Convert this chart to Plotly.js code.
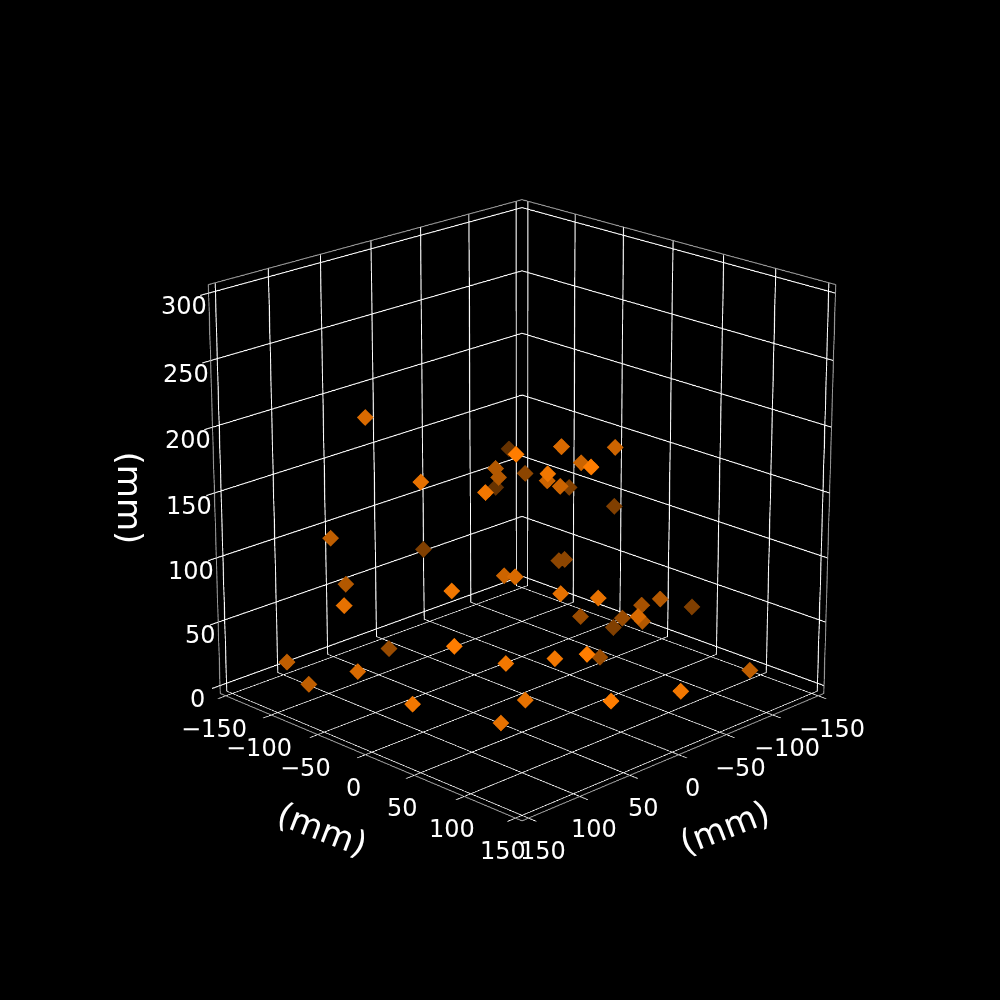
<!DOCTYPE html>
<html>
<head>
<meta charset="utf-8">
<script src="https://cdn.plot.ly/plotly-3.0.1.min.js"></script>
<style>
html, body { margin: 0; background: #000; overflow: hidden; width: 1000px; height: 1000px; }
#myDiv { position: absolute; left: -1078px; top: -1107px; width: 3200px; height: 3200px; }
</style>
</head>
<body>
<div id="myDiv"></div>
<script>
// values
var xs = [106,102,120,13,108,118,147,-75,76,12,12,-61,85,-41,14,51,14,8,-74,-6,42,-26,-94,-46,-43,52,59,52,34,-31,-49,-51,-117,-52,5,-36,-72,75,-34,79,149,148,73,146,138,104,146,87,103,-82,-10,58];
var ys = [-50,2,-73,-90,-71,49,-30,-89,70,-15,-12,-89,49,-38,53,76,39,46,-25,53,109,67,2,-2,-5,34,52,90,109,29,91,71,60,51,120,86,23,138,46,111,-90,-68,-64,-18,72,88,38,90,82,149,148,145];
var zs = [221,185,128,86,90,121,96,143,216,168,162,116,185,145,202,197,173,169,129,185,208,195,116,86,85,110,116,112,109,54,80,69,46,53,90,65,32,87,26,77,36,25,32,49,92,74,41,42,27,32,37,49];
var shade = [.85,.9,.75,.5,.7,.95,.9,.4,1,.7,.7,.4,.95,.55,.85,.95,.8,.8,.5,.8,1,.8,.5,.55,.55,.8,.85,.9,.9,.6,.7,.65,.5,.6,.85,.7,.5,1,.6,.95,.75,.75,.6,.85,1,.95,.95,.9,.9,.75,.95,1];

var xyTicks = [-150,-100,-50,0,50,100,150];
var zTicks = [0,50,100,150,200,250,300];
var axisEdge = 156.25;
var zMin = -6.25;
var zMax = 306.25;

var colors = shade.map(function(a) {
  return 'rgb(' + Math.round(255 * a) + ',' + Math.round(125 * a) + ',0)';
});

var data = [
  {
    x: xs,
    y: ys,
    z: zs,
    type: 'scatter3d',
    mode: 'markers',
    marker: { symbol: 'diamond', size: 5, color: colors, line: { width: 0 } },
    hoverinfo: 'none'
  }
];

function label(x, y, z, text, size, opts) {
  return Object.assign({
    x: x, y: y, z: z,
    text: text,
    showarrow: false,
    font: { family: 'DejaVu Sans', size: size, color: '#fff' }
  }, opts);
}

function tickText(v) {
  return v < 0 ? '\u2212' + (-v) : String(v);
}

var notes = [];
xyTicks.forEach(function(t) {
  notes.push(label(t, axisEdge, zMin, tickText(t), 24, { xshift: 14, yshift: -33 }));
  notes.push(label(axisEdge, t, zMin, tickText(t), 24, { xshift: -12, yshift: -33 }));
});
zTicks.forEach(function(t) {
  // the 0 sits further left than the other z labels
  notes.push(label(axisEdge, -axisEdge, t, tickText(t), 24, { xanchor: 'right', xshift: t === 0 ? -13 : 0, yshift: -13 }));
});
notes.push(label(0, axisEdge, zMin, '(mm)', 34, { textangle: -21, xshift: 46, yshift: -72 }));
notes.push(label(axisEdge, 0, zMin, '(mm)', 34, { textangle: 21, xshift: -43, yshift: -74 }));
notes.push(label(axisEdge, -axisEdge, 150, '(mm)', 34, { textangle: 90, xshift: -84, yshift: -5 }));

function axis(range) {
  return {
    title: { text: '' },
    range: range,
    autorange: false,
    tickmode: 'linear',
    tick0: 0,
    dtick: 50,
    showticklabels: false,
    ticks: 'outside',
    ticklen: 8,
    tickcolor: '#fff',
    tickwidth: 2,
    showgrid: true,
    gridcolor: '#fff',
    gridwidth: 2,
    zeroline: false,
    showline: true,
    mirror: true,
    linecolor: '#999',
    linewidth: 2,
    showbackground: false,
    showspikes: false
  };
}

var layout = {
  width: 3200,
  height: 3200,
  margin: { l: 0, r: 0, t: 0, b: 0 },
  paper_bgcolor: '#000',
  showlegend: false,
  scene: {
    domain: { x: [0, 1], y: [0, 1] },
    bgcolor: '#000',
    xaxis: axis([-axisEdge, axisEdge]),
    yaxis: axis([-axisEdge, axisEdge]),
    zaxis: axis([zMin, zMax]),
    aspectmode: 'manual',
    aspectratio: { x: 1, y: 1, z: 1 },
    annotations: notes,
    camera: {
      eye: { x: 5.9, y: 5.9, z: 3.04 },
      center: { x: 0, y: 0, z: 0 },
      up: { x: 0, y: 0, z: 1 }
    }
  }
};

Plotly.newPlot('myDiv', data, layout, { displayModeBar: false });
</script>
</body>
</html>
